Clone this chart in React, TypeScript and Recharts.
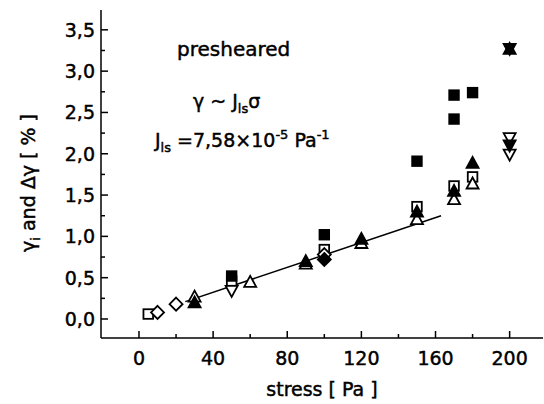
import React from 'react';
import { ScatterChart, Scatter, XAxis, YAxis } from 'recharts';

// [stress Pa, strain %]
const filledSquares = [[50, 0.52], [100, 1.02], [150, 1.91], [170, 2.42], [170, 2.71], [180, 2.74]];
const openSquares = [[5, 0.06], [50, 0.46], [100, 0.84], [150, 1.36], [170, 1.61], [180, 1.72]];
const filledUp = [[30, 0.2], [90, 0.7], [120, 0.97], [150, 1.3], [170, 1.55], [180, 1.89], [200, 3.27]];
const openUp = [[30, 0.27], [60, 0.45], [90, 0.67], [120, 0.92], [150, 1.21], [170, 1.45], [180, 1.64]];
const openDown = [[50, 0.34], [200, 2.19], [200, 1.99]];
const filledDown = [[200, 2.1], [200, 3.27]];
const openDiamonds = [[10, 0.08], [20, 0.18], [100, 0.78]];
const filledDiamonds = [[100, 0.72]];

// linear fit gamma ~ J*sigma, end points
const fitLine = [[25, 0.21], [163, 1.25]];

const xTicks = [0, 20, 40, 60, 80, 100, 120, 140, 160, 180, 200];
const yTicks = [0, 0.25, 0.5, 0.75, 1, 1.25, 1.5, 1.75, 2, 2.25, 2.5, 2.75, 3, 3.25, 3.5];

const toPoints = (arr: number[][]) => arr.map(([x, y]) => ({ x, y }));

const FONT = '"DejaVu Sans", sans-serif';
const AXIS = { stroke: '#000', strokeWidth: 1.5 };
// scanned text in the original is a bit heavier than plain DejaVu
const TXT = { fontFamily: FONT, fill: '#000', stroke: '#000', strokeWidth: 0.45 };

const isMajorX = (v: number) => v % 40 === 0;
const isMajorY = (v: number) => Math.round(v * 4) % 2 === 0;

const BottomTick = ({ x, y, payload }: any) => {
  const major = isMajorX(payload.value);
  return (
    <g>
      <line x1={x} x2={x} y1={y} y2={y - (major ? 7 : 4)} stroke="#000" strokeWidth={1.5} />
      {major && (
        <text x={x} y={y + 27} textAnchor="middle" fontSize={19} {...TXT}>
          {payload.value}
        </text>
      )}
    </g>
  );
};

const TopTick = ({ x, y, payload }: any) => (
  <line x1={x} x2={x} y1={y} y2={y + (isMajorX(payload.value) ? 7 : 4)} stroke="#000" strokeWidth={1.5} />
);

const LeftTick = ({ x, y, payload }: any) => {
  const major = isMajorY(payload.value);
  return (
    <g>
      <line x1={x} x2={x + (major ? 7 : 4)} y1={y} y2={y} stroke="#000" strokeWidth={1.5} />
      {major && (
        <text x={x - 6} y={y + 7} textAnchor="end" fontSize={19} {...TXT}>
          {payload.value.toFixed(1).replace('.', ',')}
        </text>
      )}
    </g>
  );
};

const RightTick = ({ x, y, payload }: any) => (
  <line x1={x} x2={x - (isMajorY(payload.value) ? 7 : 4)} y1={y} y2={y} stroke="#000" strokeWidth={1.5} />
);

// marker shapes
const Marker = ({ cx, cy, kind, filled }: any) => {
  const fill = filled ? '#000' : '#fff';
  const sw = 1.8;
  if (kind === 'square') {
    const h = 4.8;
    return <rect x={cx - h} y={cy - h} width={h * 2} height={h * 2} fill={fill} stroke="#000" strokeWidth={sw} />;
  }
  if (kind === 'up') {
    return (
      <polygon
        points={`${cx - 6},${cy + 5} ${cx + 6},${cy + 5} ${cx},${cy - 6}`}
        fill={fill}
        stroke="#000"
        strokeWidth={sw}
      />
    );
  }
  if (kind === 'down') {
    return (
      <polygon
        points={`${cx - 6},${cy - 5} ${cx + 6},${cy - 5} ${cx},${cy + 6}`}
        fill={fill}
        stroke="#000"
        strokeWidth={sw}
      />
    );
  }
  // diamond
  return (
    <polygon
      points={`${cx},${cy - 6.5} ${cx + 6.5},${cy} ${cx},${cy + 6.5} ${cx - 6.5},${cy}`}
      fill={fill}
      stroke="#000"
      strokeWidth={sw}
    />
  );
};

const shape = (kind: string, filled: boolean) => (props: any) => <Marker {...props} kind={kind} filled={filled} />;

export default function App() {
  const common = { xAxisId: 'b', yAxisId: 'l', isAnimationActive: false };
  return (
    <div style={{ position: 'absolute', left: 0, top: 0, width: 544, height: 404, background: '#fff' }}>
      <ScatterChart width={544} height={404} margin={{ top: 10, right: 1, bottom: 0, left: 0 }}>
        <XAxis
          xAxisId="b"
          type="number"
          dataKey="x"
          domain={[-20.5, 218]}
          ticks={xTicks}
          interval={0}
          height={66}
          tickSize={0}
          tickMargin={0}
          tickLine={false}
          axisLine={AXIS}
          tick={<BottomTick />}
          allowDataOverflow
          label={{
            value: 'stress [ Pa ]',
            position: 'insideBottom',
            offset: 8,
            style: { fontSize: 19, ...TXT },
          }}
        />
        <XAxis
          xAxisId="t"
          orientation="top"
          type="number"
          domain={[-20.5, 218]}
          ticks={xTicks}
          interval={0}
          height={0}
          tickSize={0}
          tickMargin={0}
          tickLine={false}
          axisLine={AXIS}
          tick={<TopTick />}
          allowDataOverflow
        />
        <YAxis
          yAxisId="l"
          type="number"
          dataKey="y"
          domain={[-0.23, 3.74]}
          ticks={yTicks}
          interval={0}
          width={101}
          tickSize={0}
          tickMargin={0}
          tickLine={false}
          axisLine={AXIS}
          tick={<LeftTick />}
          allowDataOverflow
        />
        <YAxis
          yAxisId="r"
          orientation="right"
          type="number"
          domain={[-0.23, 3.74]}
          ticks={yTicks}
          interval={0}
          width={0}
          tickSize={0}
          tickMargin={0}
          tickLine={false}
          axisLine={AXIS}
          tick={<RightTick />}
          allowDataOverflow
        />

        <Scatter
          {...common}
          data={toPoints(fitLine)}
          line={{ stroke: '#000', strokeWidth: 1.5 }}
          shape={() => <g />}
        />
        <Scatter {...common} data={toPoints(openSquares)} shape={shape('square', false)} />
        <Scatter {...common} data={toPoints(filledSquares)} shape={shape('square', true)} />
        <Scatter {...common} data={toPoints(openUp)} shape={shape('up', false)} />
        <Scatter {...common} data={toPoints(filledUp)} shape={shape('up', true)} />
        <Scatter {...common} data={toPoints(openDown)} shape={shape('down', false)} />
        <Scatter {...common} data={toPoints(filledDown)} shape={shape('down', true)} />
        <Scatter {...common} data={toPoints(openDiamonds)} shape={shape('diamond', false)} />
        <Scatter {...common} data={toPoints(filledDiamonds)} shape={shape('diamond', true)} />
      </ScatterChart>

      <svg
        width={544}
        height={404}
        style={{ position: 'absolute', left: 0, top: 0, pointerEvents: 'none' }}
        {...TXT}
      >
        <text x={35} y={183} textAnchor="middle" fontSize={19} transform="rotate(-90 35 183)">
          γ<tspan dy={5} fontSize={13}>i</tspan>
          <tspan dy={-5}> and Δγ [ % ]</tspan>
        </text>
        <text x={177} y={56} fontSize={20}>presheared</text>
        <text x={193} y={108} fontSize={19}>
          γ ~ J<tspan dy={5} fontSize={13}>ls</tspan>
          <tspan dy={-5}>σ</tspan>
        </text>
        <text x={155} y={147} fontSize={19}>
          J<tspan dy={5} fontSize={13}>ls</tspan>
          <tspan dy={-5}> =7,58×10</tspan>
          <tspan dy={-8} fontSize={13}>-5</tspan>
          <tspan dy={8}> Pa</tspan>
          <tspan dy={-8} fontSize={13}>-1</tspan>
        </text>
      </svg>
    </div>
  );
}
